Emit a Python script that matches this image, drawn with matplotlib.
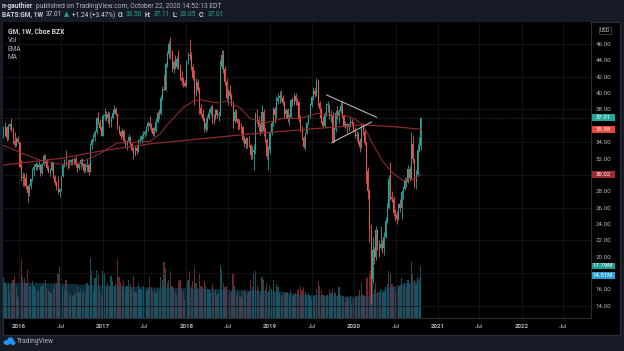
import matplotlib
matplotlib.use("Agg")
import matplotlib.pyplot as plt
import matplotlib.dates as mdates
from matplotlib.patches import Rectangle, Ellipse
import numpy as np
import pandas as pd

# ---------------- data (weekly GM candles, Cboe BZX) ----------------
week_start = "2015-10-26"

opens = [
    # 2015
    34.8, 34.9, 35.9, 34.5, 36.0, 36.2, 35.5, 34.1, 33.6, 34.4,
    # 2016
    34.0, 31.0, 29.6, 29.8, 29.6, 28.6, 27.8, 28.6, 29.5, 30.6, 31.0, 31.3, 31.0,
    31.2, 30.2, 31.3, 32.3, 31.8, 30.9, 30.4, 30.6, 31.5, 29.8, 29.0, 28.5, 27.9,
    28.3, 29.9, 31.2, 31.6, 31.5, 31.3, 31.6, 31.8, 31.6, 32.0, 31.2, 30.8, 31.3,
    31.8, 31.3, 30.5, 31.0, 31.2, 30.4, 33.6, 34.3, 34.6, 35.2, 36.9, 36.4, 35.7,
    # 2017
    34.8, 37.2, 37.3, 36.9, 37.5, 36.3, 37.0, 37.6, 38.0, 37.4, 35.9, 35.3, 34.8,
    35.4, 34.1, 33.6, 34.1, 34.6, 33.8, 33.1, 32.6, 33.3, 32.9, 34.2, 34.3, 34.8,
    35.0, 35.2, 35.8, 36.3, 36.0, 35.7, 35.0, 35.4, 36.5, 37.6, 37.4, 39.4, 40.5,
    40.4, 43.5, 44.8, 46.0, 44.8, 43.0, 43.8, 43.2, 44.2, 43.3, 41.9, 41.5, 41.2,
    # 2018
    40.9, 43.8, 44.6, 44.5, 43.2, 41.9, 40.0, 41.4, 40.4, 38.2, 37.5, 36.8, 35.6,
    36.3, 37.0, 37.6, 38.2, 37.0, 36.9, 37.9, 37.3, 37.4, 43.2, 44.7, 42.9, 41.3,
    39.4, 40.3, 39.7, 38.6, 36.6, 37.7, 36.8, 36.4, 35.9, 35.8, 34.3, 33.8, 34.4,
    33.7, 33.6, 32.4, 32.8, 33.1, 37.3, 36.7, 35.9, 35.3, 37.7, 35.4, 34.3, 32.3, 33.0,
    # 2019
    35.1, 36.3, 38.0, 37.3, 39.0, 39.4, 39.6, 39.4, 38.8, 37.5, 37.9, 36.8, 37.1,
    39.1, 38.8, 39.7, 39.0, 38.9, 36.9, 35.7, 34.5, 33.4, 35.1, 36.4, 37.3, 38.5,
    39.5, 40.3, 39.9, 41.5, 38.8, 38.0, 36.6, 36.0, 37.5, 38.6, 38.6, 37.2, 37.2,
    34.1, 35.6, 37.6, 37.2, 37.8, 38.4, 37.2, 36.0, 36.2, 35.8, 36.2, 36.5, 36.4,
    # 2020
    35.5, 34.8, 34.9, 34.2, 33.4, 35.9, 35.2, 33.9, 30.5, 28.0, 23.3, 17.3, 20.8,
    19.9, 23.3, 21.2, 21.1, 21.5, 21.0, 22.4, 24.3, 25.9, 29.5, 27.3, 27.0, 25.3,
    25.1, 24.6, 26.4, 25.9, 27.9, 28.3, 29.2, 29.1, 30.7, 29.6, 33.8, 32.0, 29.1,
    30.0, 33.0, 33.50,
]
highs = [
    36.0, 36.5, 36.0, 36.2, 36.4, 36.9, 35.8, 35.2, 34.6, 34.8,
    34.0, 31.8, 30.4, 30.2, 30.2, 28.8, 28.9, 29.6, 30.8, 31.3, 31.6, 31.5, 31.7,
    31.3, 31.5, 32.5, 32.6, 31.9, 31.2, 30.9, 31.7, 31.6, 30.0, 29.3, 29.9, 28.4,
    30.0, 31.3, 31.9, 33.0, 31.8, 32.0, 32.0, 32.1, 32.2, 32.3, 31.5, 31.5, 31.9,
    32.1, 31.5, 31.4, 31.9, 31.5, 33.9, 34.5, 35.0, 35.5, 37.1, 37.7, 36.8, 36.0,
    37.4, 38.2, 37.8, 37.8, 37.7, 37.2, 38.0, 38.6, 38.3, 37.5, 36.1, 35.5, 35.7,
    35.6, 34.3, 34.3, 35.0, 34.8, 34.0, 33.4, 33.5, 33.6, 34.4, 34.7, 35.0, 35.4,
    35.5, 36.0, 36.6, 37.2, 36.4, 35.9, 35.8, 36.9, 37.8, 38.0, 39.8, 40.9, 42.3,
    43.8, 45.1, 46.4, 46.8, 45.3, 44.1, 44.6, 44.5, 45.3, 43.6, 42.7, 42.0, 41.6,
    44.0, 45.0, 46.6, 45.0, 43.6, 42.8, 41.8, 41.7, 40.7, 38.7, 38.0, 37.1, 37.0,
    37.3, 38.0, 38.6, 38.5, 37.4, 38.1, 38.0, 37.8, 44.0, 45.3, 45.3, 43.3, 41.8,
    40.5, 41.0, 40.0, 39.0, 38.0, 38.0, 37.0, 36.8, 36.3, 36.0, 34.7, 34.6, 34.6,
    34.8, 33.8, 33.5, 33.8, 37.7, 38.0, 37.2, 36.3, 38.5, 38.0, 35.9, 34.5, 33.5, 35.4,
    36.6, 38.3, 38.3, 39.6, 40.0, 40.2, 40.4, 39.8, 39.0, 38.2, 38.2, 37.4, 39.3,
    39.5, 40.0, 40.0, 39.4, 39.0, 37.3, 36.0, 34.8, 35.3, 36.5, 37.5, 38.8, 39.7,
    40.7, 40.6, 41.9, 41.7, 39.0, 38.2, 37.2, 37.7, 38.8, 39.0, 38.7, 37.9, 37.7,
    35.9, 37.9, 38.4, 38.0, 38.9, 39.1, 37.3, 36.6, 36.3, 36.4, 36.9, 36.8, 36.6,
    35.9, 35.4, 35.3, 34.5, 36.2, 36.3, 35.5, 34.0, 31.0, 28.3, 24.0, 22.4, 21.2,
    23.7, 23.4, 22.0, 23.7, 22.0, 23.0, 24.9, 26.5, 30.0, 31.6, 28.0, 27.4, 25.8,
    25.6, 26.6, 27.0, 28.2, 28.6, 29.7, 29.6, 31.2, 31.1, 35.2, 34.9, 32.1, 30.6,
    33.8, 34.6, 37.11,
]
lows = [
    34.5, 34.7, 34.2, 34.3, 35.6, 35.2, 33.9, 33.4, 33.5, 33.9,
    30.8, 29.3, 28.6, 28.6, 28.3, 26.7, 27.4, 28.3, 29.3, 29.9, 30.6, 30.6, 30.7,
    29.9, 30.0, 31.1, 31.5, 30.6, 30.2, 29.9, 30.5, 29.6, 28.8, 28.1, 27.6, 27.3,
    28.0, 29.8, 31.0, 31.1, 30.7, 31.0, 31.2, 31.2, 31.3, 31.0, 30.4, 30.6, 30.7,
    31.1, 30.2, 30.3, 30.3, 30.0, 30.3, 33.2, 34.0, 34.1, 35.0, 36.2, 35.5, 34.7,
    34.7, 36.7, 36.6, 36.3, 35.9, 35.8, 36.8, 37.4, 37.2, 35.6, 35.0, 34.4, 34.6,
    33.9, 33.3, 33.0, 33.9, 33.5, 32.9, 32.0, 32.3, 32.6, 32.8, 33.9, 33.9, 34.4,
    34.6, 34.9, 35.4, 35.6, 35.3, 34.8, 34.7, 35.2, 36.3, 36.8, 37.3, 39.2, 40.3,
    40.3, 43.2, 44.3, 44.2, 42.6, 42.5, 42.9, 43.0, 42.9, 41.6, 41.0, 40.8, 40.7,
    40.9, 43.5, 44.0, 42.8, 41.6, 38.6, 39.6, 40.1, 37.5, 37.2, 36.6, 35.3, 35.3,
    35.5, 36.8, 37.3, 36.3, 36.2, 36.7, 37.0, 36.6, 37.2, 43.0, 42.5, 41.0, 39.1,
    38.6, 39.3, 38.4, 35.7, 36.3, 36.6, 35.5, 35.6, 35.1, 34.0, 33.4, 33.2, 33.3,
    33.4, 31.9, 32.0, 30.6, 32.6, 36.4, 35.4, 34.9, 35.3, 34.8, 34.0, 32.0, 30.6, 32.6,
    34.9, 36.0, 36.4, 37.0, 38.7, 38.8, 39.0, 38.5, 37.0, 37.0, 36.5, 36.1, 37.0,
    38.4, 38.6, 38.6, 38.5, 36.5, 35.3, 34.3, 33.3, 33.1, 35.0, 36.2, 37.0, 38.3,
    39.2, 39.5, 39.7, 38.4, 36.9, 36.4, 35.7, 35.8, 37.2, 37.7, 36.8, 36.5, 33.9,
    34.0, 35.3, 36.8, 36.3, 37.6, 37.0, 35.8, 35.7, 35.0, 35.4, 35.8, 36.0, 35.3,
    34.5, 34.2, 33.8, 32.8, 33.3, 34.9, 33.7, 29.0, 27.0, 21.8, 14.3, 16.8, 19.1,
    19.6, 20.8, 19.9, 20.9, 20.4, 20.2, 22.3, 24.1, 25.8, 26.9, 26.7, 25.0, 24.3,
    24.0, 24.5, 25.5, 24.6, 27.0, 28.2, 28.5, 29.0, 29.2, 29.5, 31.5, 28.4, 28.3,
    30.0, 32.8, 33.05,
]
closes = [
    34.9, 35.9, 34.5, 36.0, 36.2, 35.5, 34.1, 33.6, 34.4, 34.0,
    31.0, 29.6, 29.8, 29.6, 28.6, 27.8, 28.6, 29.5, 30.6, 31.0, 31.3, 31.0, 31.2,
    30.2, 31.3, 32.3, 31.8, 30.9, 30.4, 30.6, 31.5, 29.8, 29.0, 28.5, 27.9, 28.3,
    29.9, 31.2, 31.6, 31.5, 31.3, 31.6, 31.8, 31.6, 32.0, 31.2, 30.8, 31.3, 31.8,
    31.3, 30.5, 31.0, 31.2, 30.4, 33.6, 34.3, 34.6, 35.2, 36.9, 36.4, 35.7, 34.8,
    37.2, 37.3, 36.9, 37.5, 36.3, 37.0, 37.6, 38.0, 37.4, 35.9, 35.3, 34.8, 35.4,
    34.1, 33.6, 34.1, 34.6, 33.8, 33.1, 32.6, 33.3, 32.9, 34.2, 34.3, 34.8, 35.0,
    35.2, 35.8, 36.3, 36.0, 35.7, 35.0, 35.4, 36.5, 37.6, 37.4, 39.4, 40.5, 40.4,
    43.5, 44.8, 46.0, 44.8, 43.0, 43.8, 43.2, 44.2, 43.3, 41.9, 41.5, 41.2, 40.9,
    43.8, 44.6, 44.5, 43.2, 41.9, 40.0, 41.4, 40.4, 38.2, 37.5, 36.8, 35.6, 36.3,
    37.0, 37.6, 38.2, 37.0, 36.9, 37.9, 37.3, 37.4, 43.2, 44.7, 42.9, 41.3, 39.4,
    40.3, 39.7, 38.6, 36.6, 37.7, 36.8, 36.4, 35.9, 35.8, 34.3, 33.8, 34.4, 33.7,
    33.6, 32.4, 32.8, 33.1, 37.3, 36.7, 35.9, 35.3, 37.7, 35.4, 34.3, 32.3, 33.0, 35.1,
    36.3, 38.0, 37.3, 39.0, 39.4, 39.6, 39.4, 38.8, 37.5, 37.9, 36.8, 37.1, 39.1,
    38.8, 39.7, 39.0, 38.9, 36.9, 35.7, 34.5, 33.4, 35.1, 36.4, 37.3, 38.5, 39.5,
    40.3, 39.9, 41.5, 38.8, 38.0, 36.6, 36.0, 37.5, 38.6, 38.6, 37.2, 37.2, 34.1,
    35.6, 37.6, 37.2, 37.8, 38.4, 37.2, 36.0, 36.2, 35.8, 36.2, 36.5, 36.4, 35.5,
    34.8, 34.9, 34.2, 33.4, 35.9, 35.2, 33.9, 30.5, 28.0, 23.3, 17.3, 20.8, 19.9,
    23.3, 21.2, 21.1, 21.5, 21.0, 22.4, 24.3, 25.9, 29.5, 27.3, 27.0, 25.3, 25.1,
    24.6, 26.4, 25.9, 27.9, 28.3, 29.2, 29.1, 30.7, 29.6, 33.8, 32.0, 29.1, 30.0,
    33.0, 33.5, 37.01,
]
volumes_m = [
    14.0, 12.0, 11.0, 11.5, 9.0, 12.0, 13.0, 14.5, 10.5, 7.0,
    17.0, 20.0, 14.0, 13.5, 12.0, 16.5, 11.0, 10.5, 12.5, 11.0, 10.0, 9.0, 9.5,
    10.5, 11.0, 12.0, 13.0, 10.0, 9.5, 9.0, 8.5, 10.0, 11.5, 12.0, 15.5, 17.5,
    10.0, 11.0, 9.5, 13.0, 9.0, 8.0, 8.5, 7.5, 8.0, 9.0, 11.0, 9.0, 10.0,
    8.5, 9.5, 8.5, 12.0, 11.0, 20.5, 16.0, 9.0, 13.5, 16.5, 15.0, 9.5, 7.5,
    16.0, 15.5, 10.5, 12.0, 11.0, 14.5, 12.5, 11.0, 12.0, 20.0, 14.0, 12.0, 11.0,
    12.5, 9.5, 11.0, 13.0, 11.5, 10.0, 14.5, 9.0, 8.5, 12.0, 10.0, 9.5, 11.0,
    7.0, 9.0, 10.0, 14.0, 10.5, 9.0, 9.5, 8.5, 10.0, 9.5, 14.0, 13.0, 19.0,
    17.0, 12.0, 13.0, 16.0, 11.0, 10.0, 9.0, 8.0, 12.5, 13.0, 10.0, 9.0, 6.0,
    12.0, 13.0, 16.0, 11.0, 12.5, 17.5, 12.0, 10.0, 15.0, 11.0, 10.5, 12.5, 11.0,
    10.0, 9.5, 8.5, 11.5, 9.0, 9.5, 8.0, 8.5, 18.0, 16.5, 12.0, 10.5, 11.0,
    8.0, 8.5, 9.0, 15.0, 11.0, 8.0, 9.0, 7.5, 7.0, 9.0, 9.5, 8.5, 8.0,
    9.0, 13.0, 10.5, 15.5, 16.0, 11.0, 9.5, 8.0, 14.0, 13.0, 10.0, 12.0, 9.0, 11.0,
    10.0, 13.0, 9.0, 11.5, 10.5, 8.5, 7.5, 8.0, 9.0, 8.5, 9.0, 8.0, 9.5,
    7.5, 8.0, 8.5, 9.5, 10.0, 11.0, 9.5, 10.5, 9.0, 8.0, 8.5, 7.5, 6.0,
    7.5, 7.0, 10.0, 12.5, 11.0, 9.5, 8.0, 7.0, 7.5, 8.0, 9.5, 8.5, 10.0,
    9.0, 8.5, 7.5, 10.5, 8.0, 7.5, 7.0, 5.5, 7.0, 6.5, 7.5, 4.5, 6.5,
    7.0, 7.5, 8.0, 9.5, 12.0, 8.0, 7.5, 14.0, 13.5, 15.0, 16.5, 14.5, 10.0,
    12.0, 9.0, 8.5, 10.0, 8.5, 9.0, 10.5, 11.5, 16.0, 15.5, 11.5, 10.5, 9.5,
    9.0, 10.5, 11.0, 13.5, 11.0, 12.0, 10.5, 13.0, 11.5, 19.0, 15.5, 13.0, 11.5,
    14.0, 12.5, 17.79,
]

# indicator readings (EMA, long MA, volume MA)
ema_dates = ["2015-10-26", "2016-01-28", "2016-04-02", "2016-06-29", "2016-09-24",
             "2016-12-20", "2017-03-05", "2017-05-23", "2017-07-27", "2017-09-08",
             "2017-10-08", "2017-12-17", "2018-01-30", "2018-03-01", "2018-05-14",
             "2018-06-27", "2018-08-23", "2018-10-05", "2018-11-18", "2018-12-18",
             "2019-02-26", "2019-05-11", "2019-07-24", "2019-10-02", "2019-11-23",
             "2020-01-06", "2020-02-10", "2020-03-25", "2020-05-07", "2020-06-20",
             "2020-08-02", "2020-09-11", "2020-10-19"]
ema_values = [33.6, 32.5, 31.8, 31.3, 31.5, 32.6, 33.9, 34.0, 34.1, 35.0, 36.1,
              38.2, 39.0, 39.2, 38.8, 39.0, 38.2, 36.9, 36.5, 36.4, 36.9, 36.9,
              37.5, 37.3, 37.3, 36.8, 36.1, 33.7, 31.6, 30.2, 29.3, 29.4, 30.02]
ma_dates = ["2015-10-26", "2016-06-29", "2016-12-20", "2017-07-27", "2018-03-01",
            "2018-10-05", "2019-05-11", "2019-11-01", "2020-02-10", "2020-06-20",
            "2020-10-19"]
ma_values = [31.2, 32.0, 32.9, 33.8, 34.4, 35.0, 35.5, 35.9, 36.1, 35.9, 35.58]
volma_dates = ["2015-10-26", "2016-06-29", "2016-12-20", "2017-07-27", "2018-03-01",
               "2018-10-05", "2019-02-13", "2019-05-11", "2019-12-15", "2020-03-11",
               "2020-05-07", "2020-07-20", "2020-10-02", "2020-10-19"]
volma_values = [12.3, 12.0, 11.3, 10.6, 10.2, 9.6, 9.2, 8.2, 7.5, 7.8, 9.9, 11.6,
                13.0, 14.51]

# drawn triangle (trend lines)
upper_line_dates = ["2019-09-04", "2020-04-09"]
upper_line_prices = [39.77, 37.04]
lower_line_dates = ["2019-09-26", "2020-03-18"]
lower_line_prices = [33.93, 36.46]

last_price = 37.01
ma_last = 35.58
ema_last = 30.02
vol_last = 17.79
volma_last = 14.51

x_tick_dates = ["2016-01-01", "2016-07-01", "2017-01-01", "2017-07-01", "2018-01-01",
                "2018-07-01", "2019-01-01", "2019-07-01", "2020-01-01", "2020-07-01",
                "2021-01-01", "2021-07-01", "2022-01-01", "2022-07-01"]
x_tick_labels = ["2016", "Jul", "2017", "Jul", "2018", "Jul", "2019", "Jul",
                 "2020", "Jul", "2021", "Jul", "2022", "Jul"]
price_ticks = [14, 16, 18, 20, 22, 24, 26, 28, 30, 32, 34, 36, 38, 40, 42, 44, 46, 48]
grid_levels = [14, 18, 22, 26, 30, 34, 38, 42, 46]

# ---------------- figure ----------------
W, H = 624, 351
UP, DOWN = "#26a69a", "#ef5350"
TXT = "#b2b5be"
FONT = ["Roboto", "DejaVu Sans"]
plt.rcParams["font.family"] = FONT

fig = plt.figure(figsize=(W / 100, H / 100), dpi=100)
fig.patch.set_facecolor("#171b26")
renderer = fig.canvas.get_renderer()


def fx(px):
    return px / W


def fy(py):
    return 1 - py / H


fig.patches.append(Rectangle((fx(3), fy(335)), (620 - 3) / W, (335 - 22) / H,
                             transform=fig.transFigure, facecolor="#000000",
                             edgecolor="#2a2e39", linewidth=0.8, zorder=-2))

pos = [fx(3), fy(318), (591 - 3) / W, (318 - 22) / H]
axv = fig.add_axes(pos)
ax = fig.add_axes(pos, sharex=axv)
axv.set_facecolor("#000000")
ax.patch.set_alpha(0)

dates = pd.date_range(week_start, periods=len(closes), freq="W-MON")
x = mdates.date2num(dates.to_pydatetime())
o = np.array(opens)
h = np.array(highs)
l = np.array(lows)
c = np.array(closes)
up = c >= o
colors = np.where(up, UP, DOWN)

# volume
vcolors = np.where(up, "#1f8f95", "#b8404a")
axv.bar(x, volumes_m, width=5.2, color=vcolors, alpha=0.6, linewidth=0, zorder=2)
vm_x = mdates.date2num(pd.to_datetime(volma_dates).to_pydatetime())
axv.fill_between(vm_x, 0, volma_values, color="#1d5670", alpha=0.5, linewidth=0, zorder=3)
axv.set_ylim(0, 101)
axv.tick_params(which="both", bottom=False, labelbottom=False, left=False,
                labelleft=False, right=False, labelright=False)
for s in axv.spines.values():
    s.set_visible(False)

# grid
for g in grid_levels:
    ax.axhline(g, color="#15171d", linewidth=0.6, zorder=0)
xt = mdates.date2num(pd.to_datetime(x_tick_dates).to_pydatetime())
for t in xt:
    ax.axvline(t, color="#15171d", linewidth=0.6, zorder=0)

# candles
ax.vlines(x, l, h, colors=colors, linewidth=0.6, zorder=4)
body_bottom = np.minimum(o, c)
body_h = np.maximum(np.abs(c - o), 0.08)
ax.bar(x, body_h, bottom=body_bottom, width=4.4, color=colors, linewidth=0, zorder=5)

# indicators
ma_x = mdates.date2num(pd.to_datetime(ma_dates).to_pydatetime())
ema_x = mdates.date2num(pd.to_datetime(ema_dates).to_pydatetime())
ax.plot(ma_x, ma_values, color="#8c2c2c", linewidth=0.9, zorder=6)
ax.plot(ema_x, ema_values, color="#9c2f2f", linewidth=0.7, zorder=6)

# trend lines
ax.plot(mdates.date2num(pd.to_datetime(upper_line_dates).to_pydatetime()),
        upper_line_prices, color="#c9ccd4", linewidth=0.7, zorder=7)
ax.plot(mdates.date2num(pd.to_datetime(lower_line_dates).to_pydatetime()),
        lower_line_prices, color="#c9ccd4", linewidth=0.7, zorder=7)

# last-price line
ax.axhline(last_price, color=UP, linewidth=0.5, linestyle=(0, (1, 1.5)), alpha=0.6, zorder=1)

ax.set_xlim(mdates.date2num(pd.Timestamp("2015-10-24")),
            mdates.date2num(pd.Timestamp("2022-10-31")))
ax.set_ylim(12.5, 48.69)

# ---------------- tags on the price scale ----------------
TAG_H = 6.6


def yfig_of(axis, value):
    _, yd = axis.transData.transform((0, value))
    return yd / fig.bbox.height


def tag(yf, text, fc):
    fig.patches.append(Rectangle((fx(591.5), yf - TAG_H / 2 / H), 23 / W, TAG_H / H,
                                 transform=fig.transFigure, facecolor=fc,
                                 edgecolor="none", zorder=5))
    fig.text(fx(603), yf, text, ha="center", va="center", fontsize=4.3,
             color="white", zorder=6)


tag_positions = []
for val, fc in [(last_price, "#26a69a"), (ma_last, "#e8463f"), (ema_last, "#9e2a2f")]:
    yf = yfig_of(ax, val)
    tag(yf, f"{val:.2f}", fc)
    tag_positions.append(yf)
yf_vol = yfig_of(axv, vol_last)
tag(yf_vol, f"{vol_last:.2f}M", "#1f9c93")
yf_vma = min(yfig_of(axv, volma_last), yf_vol - (TAG_H + 0.4) / H)
tag(yf_vma, f"{volma_last:.2f}M", "#2a9fd8")
tag_positions += [yf_vol, yf_vma]

# USD box
usd_y = fy(30.7)
fig.patches.append(Rectangle((fx(599.0), usd_y - 3.5 / H), 12 / W, 7.0 / H,
                             transform=fig.transFigure, facecolor="#000000",
                             edgecolor="#50535e", linewidth=0.5, zorder=5))
fig.text(fx(605.0), usd_y, "USD", ha="center", va="center", fontsize=3.9,
         color="#d1d4dc", zorder=6)
tag_positions.append(usd_y)

# price scale labels (those hidden under a tag are left blank)
ax.yaxis.tick_right()
ax.set_yticks(price_ticks)
labels = []
for v in price_ticks:
    yf = yfig_of(ax, v)
    hidden = any(abs(yf - tp) * H < 6.0 for tp in tag_positions)
    labels.append("" if hidden else f"{v:.2f}")
ax.set_yticklabels(labels)
ax.tick_params(axis="y", length=0, pad=3.5, labelsize=4.5, labelcolor=TXT)
ax.set_xticks(xt)
ax.set_xticklabels(x_tick_labels)
ax.tick_params(axis="x", length=0, pad=4, labelsize=4.5, labelcolor=TXT)
for lab in ax.get_xticklabels():
    if lab.get_text() != "Jul":
        lab.set_fontweight("bold")
for side in ["top", "left"]:
    ax.spines[side].set_visible(False)
for side in ["right", "bottom"]:
    ax.spines[side].set_color("#2a2e39")
    ax.spines[side].set_linewidth(0.8)


# ---------------- header, legend, footer ----------------
def chain(pieces, x0, y, size, gap=1.3):
    xpx = x0
    for s, col, fw in pieces:
        t = fig.text(fx(xpx), fy(y), s, fontsize=size, color=col, fontweight=fw,
                     va="center", ha="left")
        bb = t.get_window_extent(renderer=renderer)
        xpx += bb.width + gap


chain([("n-gauthier", "#d1d4dc", "bold"),
       ("published on TradingView.com, October 22, 2020 14:52:13 EDT", "#b2b5be", "normal")],
      2, 6, 4.8, gap=2.6)
chain([("BATS:GM, 1W", "#d1d4dc", "bold"), ("37.01", "#d1d4dc", "normal"),
       ("\u25b2", UP, "normal"), ("+1.24 (+3.47%)", "#d1d4dc", "normal"),
       ("O:", "#d1d4dc", "bold"), ("33.50", UP, "normal"),
       ("H:", "#d1d4dc", "bold"), ("37.11", UP, "normal"),
       ("L:", "#d1d4dc", "bold"), ("33.05", UP, "normal"),
       ("C:", "#d1d4dc", "bold"), ("37.01", UP, "normal")],
      2, 15, 4.7, gap=2.4)

fig.text(fx(8), fy(31.7), "GM, 1W, Cboe BZX", fontsize=4.9, fontweight="bold",
         color="#d1d4dc", va="center")
for yy, s in [(40.7, "Vol"), (49.3, "EMA"), (57.3, "MA")]:
    fig.text(fx(8), fy(yy), s, fontsize=4.7, color=TXT, va="center")

for cx, cy, w_, h_ in [(7.0, 342.5, 7.0, 5.0), (10.5, 340.5, 6.5, 6.5), (13.0, 343.0, 5.0, 4.0)]:
    fig.patches.append(Ellipse((fx(cx), fy(cy)), w_ / W, h_ / H,
                               transform=fig.transFigure, facecolor="#2196f3",
                               edgecolor="none", zorder=5))
fig.text(fx(16.5), fy(341.5), "TradingView", fontsize=4.8, color="#b2b5be", va="center")

fig.savefig("out.png", dpi=100, facecolor=fig.get_facecolor())
